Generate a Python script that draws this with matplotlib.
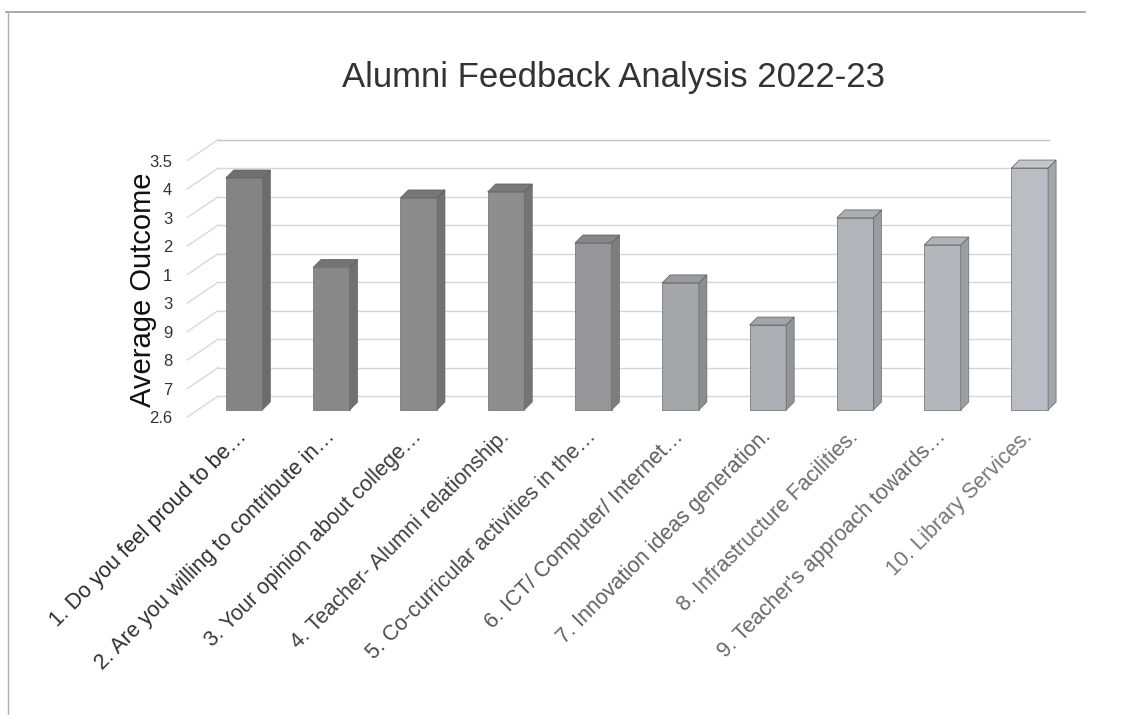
import matplotlib
matplotlib.use("Agg")
import matplotlib.pyplot as plt
from matplotlib.patches import Polygon
from matplotlib.lines import Line2D
import numpy as np

plt.rcParams['font.family'] = ['Liberation Sans', 'DejaVu Sans']

# ---- data ----
categories = [
    "1. Do you feel proud to be\u2026",
    "2. Are you willing to contribute in\u2026",
    "3. Your opinion about college\u2026",
    "4. Teacher- Alumni relationship.",
    "5. Co-curricular activities in the\u2026",
    "6. ICT/ Computer/ Internet\u2026",
    "7. Innovation ideas generation.",
    "8. Infrastructure Facilities.",
    "9. Teacher's approach towards\u2026",
    "10. Library Services.",
]
values = [3.414, 3.10, 3.344, 3.365, 3.186, 3.046, 2.898, 3.274, 3.179, 3.449]
ytick_values = [2.6, 2.7, 2.8, 2.9, 3.0, 3.1, 3.2, 3.3, 3.4, 3.5]
ytick_labels = ["2.6", "7", "8", "9", "3", "1", "2", "3", "4", "3.5"]
title = "Alumni Feedback Analysis 2022-23"
ylabel = "Average Outcome"

# ---- style ----
front_colors = ['#848484', '#888889', '#8b8b8c', '#8e8e8f', '#969699',
                '#a5a6aa', '#acaeb3', '#b2b4b9', '#b5b7bc', '#babdc4']
side_colors = ['#6c6c6c', '#707071', '#727273', '#757576', '#7d7d80',
               '#8c8d91', '#93959a', '#999ba0', '#9c9ea3', '#a3a5ab']
top_colors = ['#707070', '#747475', '#777778', '#7a7a7b', '#86868a',
              '#9a9ba0', '#a3a5aa', '#abadb2', '#b0b2b7', '#c4c6cc']
label_colors = ['#2a2a2a', '#303030', '#383838', '#404040', '#4a4a4a',
                '#585858', '#626262', '#6c6c6c', '#6a6a6a', '#777777']

W, H = 1128, 715
fig = plt.figure(figsize=(W / 100, H / 100), dpi=100)
fig.patch.set_facecolor('white')

ax_left, ax_bottom_px, ax_w, ax_h = 190.4, 417, 873, 256.5
ax = fig.add_axes([ax_left / W, (H - ax_bottom_px) / H, ax_w / W, ax_h / H])
ax.set_xlim(-0.5, 9.5)
ax.set_ylim(2.6, 3.5)
ax.set_frame_on(False)

XS = ax_w / 10.0        # px per x unit
YS = ax_h / 0.9         # px per y unit

# depth offsets (in data units)
bdx, bdy = 10 / XS, 7 / YS        # bar plane relative to front plane
wdx, wdy = 31 / XS, 21 / YS       # back wall relative to front plane
ddx, ddy = 8 / XS, 8 / YS         # bar depth

x = np.arange(len(categories))
x_left_front = -0.535
x_right_wall = 9.33

# back wall gridlines and floor diagonals
for v in ytick_values:
    gc = '#c4c4c4' if v >= 3.45 else '#d6d6d6'
    ax.plot([x_left_front + wdx, x_right_wall], [v + wdy, v + wdy],
            color=gc, lw=1.0, clip_on=False, zorder=1)
    ax.plot([x_left_front, x_left_front + wdx], [v, v + wdy],
            color='#d8d8d8', lw=1.0, clip_on=False, zorder=1)

# bars (front faces)
bw = 0.42
bars = ax.bar(x + bdx, np.array(values) - 2.6, bottom=2.6 + bdy, width=bw,
              color=front_colors, edgecolor='#6a6a6a', linewidth=0.5,
              zorder=3, clip_on=False)

for i, v in enumerate(values):
    xl = x[i] + bdx - bw / 2
    xr = x[i] + bdx + bw / 2
    top = v + bdy
    bot = 2.6 + bdy
    side = Polygon([(xr, bot), (xr + ddx, bot + ddy), (xr + ddx, top + ddy), (xr, top)],
                   closed=True, facecolor=side_colors[i], edgecolor='#6a6a6a',
                   linewidth=0.5, zorder=3, clip_on=False)
    topf = Polygon([(xl, top), (xr, top), (xr + ddx, top + ddy), (xl + ddx, top + ddy)],
                   closed=True, facecolor=top_colors[i], edgecolor='#5a5a5a',
                   linewidth=0.5, zorder=3, clip_on=False)
    ax.add_patch(side)
    ax.add_patch(topf)

# axes ticks
ax.set_yticks(ytick_values, ytick_labels)
ax.tick_params(axis='y', length=0, pad=13, labelsize=12, labelcolor='#333333')
ax.set_xticks(x + bdx, categories)
ax.tick_params(axis='x', length=0, pad=12, labelsize=15.5)
for lab, c in zip(ax.get_xticklabels(), label_colors):
    lab.set_rotation(45)
    lab.set_ha('right')
    lab.set_va('center')
    lab.set_rotation_mode('anchor')
    lab.set_color(c)

# y label and title
fig.text(143 / W, 1 - 290 / H, ylabel, rotation=90, ha='center', va='center',
         fontsize=21, color='#111111')
fig.text(614 / W, 1 - 78 / H, title, ha='center', va='center',
         fontsize=25, color='#333333')

# chart-area border
fig.add_artist(Line2D([6 / W, 1085 / W], [1 - 12 / H, 1 - 12 / H],
                      transform=fig.transFigure, color='#9a9a9a', lw=1.2))
fig.add_artist(Line2D([8 / W, 8 / W], [1 - 12 / H, 0], transform=fig.transFigure,
                      color='#b0b0b0', lw=1.0))

fig.savefig('out.png', dpi=100)
